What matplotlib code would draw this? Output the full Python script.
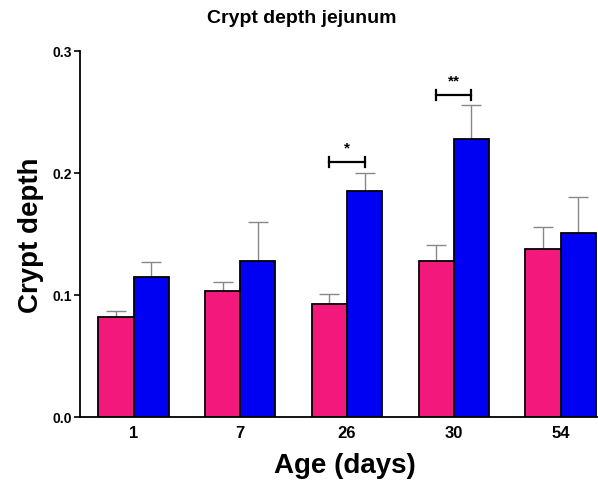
import numpy as np
import matplotlib.pyplot as plt

plt.rcParams['font.family'] = ['Liberation Sans', 'DejaVu Sans']

ages = ["1", "7", "26", "30", "54"]
pink_mean = [0.082, 0.103, 0.093, 0.128, 0.138]
pink_err = [0.005, 0.008, 0.008, 0.013, 0.018]
blue_mean = [0.115, 0.128, 0.185, 0.228, 0.151]
blue_err = [0.012, 0.032, 0.015, 0.028, 0.029]

# significance brackets: (group index, bracket height, label)
sig = [(2, 0.209, "*"), (3, 0.264, "**")]

pink = "#F2187C"
blue = "#0000F2"
w = 0.33

fig = plt.figure(figsize=(5.98, 4.81), dpi=100)
ax = fig.add_axes([0.134, 0.131, 0.864, 0.761])

x = np.arange(len(ages))
ax.bar(x - w / 2, pink_mean, w, color=pink, edgecolor="black", linewidth=1.3, zorder=2)
ax.bar(x + w / 2, blue_mean, w, color=blue, edgecolor="black", linewidth=1.3, zorder=2)
ax.errorbar(x - w / 2, pink_mean, yerr=[np.zeros(5), pink_err], fmt="none",
            ecolor="#888888", elinewidth=1.0, capsize=7, capthick=1.0, zorder=1)
ax.errorbar(x + w / 2, blue_mean, yerr=[np.zeros(5), blue_err], fmt="none",
            ecolor="#888888", elinewidth=1.0, capsize=7, capthick=1.0, zorder=1)

for i, h, lab in sig:
    x0, x1 = i - w / 2, i + w / 2
    ax.plot([x0, x1], [h, h], color="black", lw=1.6)
    ax.plot([x0, x0], [h - 0.004, h + 0.004], color="black", lw=1.6)
    ax.plot([x1, x1], [h - 0.004, h + 0.004], color="black", lw=1.6)
    ax.text(i, h + 0.006, lab, ha="center", va="bottom", fontsize=11, fontweight="bold")

ax.set_xlim(-0.5, 4.34)
ax.set_ylim(0, 0.3)
ax.set_yticks([0.0, 0.1, 0.2, 0.3])
ax.set_yticklabels(["0.0", "0.1", "0.2", "0.3"], fontsize=10, fontweight="bold")
ax.set_xticks(x)
ax.set_xticklabels(ages, fontsize=12, fontweight="bold")
ax.tick_params(axis="x", length=0, pad=6)
ax.tick_params(axis="y", length=4, width=1.2, pad=2)
for s in ["top", "right"]:
    ax.spines[s].set_visible(False)
for s in ["left", "bottom"]:
    ax.spines[s].set_linewidth(1.3)

ax.set_ylabel("Crypt depth", fontsize=20, fontweight="bold")
ax.yaxis.set_label_coords(-0.07, 0.5)
ax.set_xlabel("Age (days)", fontsize=20, fontweight="bold")
ax.xaxis.set_label_coords(0.512, -0.095)
fig.text(0.505, 0.962, "Crypt depth jejunum", ha="center", va="center",
         fontsize=14, fontweight="bold")

fig.savefig("out.png", dpi=100)
